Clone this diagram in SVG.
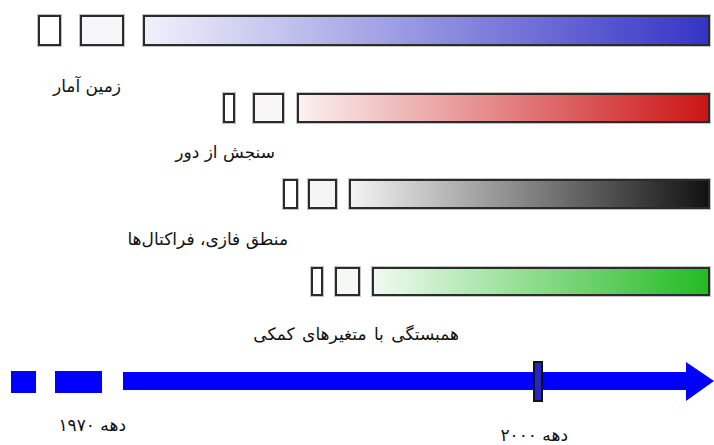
<svg xmlns="http://www.w3.org/2000/svg" width="714" height="445" viewBox="0 0 714 445">
  <style>
    .box { stroke: #2b2b2b; stroke-width: 2; }
    .halo { fill: none; stroke: #c4c4c4; stroke-width: 4; }
    .label { font-family: "DejaVu Sans", "Noto Sans", sans-serif; font-size: 17px; fill: #111; text-anchor: end; }
    .time { fill: #0000ff; }
  </style>
  <defs>
    <linearGradient id="gBlue" x1="0" y1="0" x2="1" y2="0">
      <stop offset="0" stop-color="#f1f1fb"/>
      <stop offset="1" stop-color="#3434c6"/>
    </linearGradient>
    <linearGradient id="gRed" x1="0" y1="0" x2="1" y2="0">
      <stop offset="0" stop-color="#fbf1f1"/>
      <stop offset="1" stop-color="#cc1414"/>
    </linearGradient>
    <linearGradient id="gBlack" x1="0" y1="0" x2="1" y2="0">
      <stop offset="0" stop-color="#f4f4f4"/>
      <stop offset="1" stop-color="#111111"/>
    </linearGradient>
    <linearGradient id="gGreen" x1="0" y1="0" x2="1" y2="0">
      <stop offset="0" stop-color="#f1faf1"/>
      <stop offset="1" stop-color="#22bb22"/>
    </linearGradient>
  </defs>

  <!-- Row 1: geostatistics -->
  <g id="row-geostat">
    <rect class="halo" x="39" y="16" width="21" height="29"/>
    <rect class="halo" x="81" y="16" width="42" height="29"/>
    <rect class="halo" x="144" y="16" width="565" height="29"/>
    <rect class="box" x="39" y="16" width="21" height="29" fill="#ffffff"/>
    <rect class="box" x="81" y="16" width="42" height="29" fill="#f6f6f9"/>
    <rect class="box" x="144" y="16" width="565" height="29" fill="url(#gBlue)"/>
    <text class="label" x="121" y="92" font-size="17">زمین آمار</text>
  </g>

  <!-- Row 2: remote sensing -->
  <g id="row-remote">
    <rect class="halo" x="224" y="94" width="10" height="28"/>
    <rect class="halo" x="254" y="94" width="29" height="28"/>
    <rect class="halo" x="298" y="94" width="411" height="28"/>
    <rect class="box" x="224" y="94" width="10" height="28" fill="#ffffff"/>
    <rect class="box" x="254" y="94" width="29" height="28" fill="#f8f6f6"/>
    <rect class="box" x="298" y="94" width="411" height="28" fill="url(#gRed)"/>
    <text class="label" x="275" y="158" font-size="15.5">سنجش از دور</text>
  </g>

  <!-- Row 3: fuzzy logic, fractals -->
  <g id="row-fuzzy">
    <rect class="halo" x="284" y="180" width="13" height="28"/>
    <rect class="halo" x="309" y="180" width="27" height="28"/>
    <rect class="halo" x="350" y="180" width="359" height="28"/>
    <rect class="box" x="284" y="180" width="13" height="28" fill="#ffffff"/>
    <rect class="box" x="309" y="180" width="27" height="28" fill="#f5f5f5"/>
    <rect class="box" x="350" y="180" width="359" height="28" fill="url(#gBlack)"/>
    <text class="label" x="288" y="245" font-size="16">منطق فازی، فراکتال‌ها</text>
  </g>

  <!-- Row 4: correlation with auxiliary variables -->
  <g id="row-aux">
    <rect class="halo" x="312" y="268" width="10" height="27"/>
    <rect class="halo" x="336" y="268" width="23" height="27"/>
    <rect class="halo" x="373" y="268" width="336" height="27"/>
    <rect class="box" x="312" y="268" width="10" height="27" fill="#ffffff"/>
    <rect class="box" x="336" y="268" width="23" height="27" fill="#f6f8f6"/>
    <rect class="box" x="373" y="268" width="336" height="27" fill="url(#gGreen)"/>
    <text class="label" x="459" y="340" font-size="19.5" word-spacing="2">همبستگی با متغیرهای کمکی</text>
  </g>

  <!-- Timeline arrow -->
  <g id="timeline">
    <rect class="time" x="11" y="371" width="25" height="22"/>
    <rect class="time" x="55" y="371" width="47" height="22"/>
    <rect class="time" x="123" y="372" width="565" height="18"/>
    <polygon class="time" points="686,362 714,381 686,401"/>
    <rect x="534" y="362" width="8" height="39" fill="#2626c8" stroke="#111" stroke-width="2"/>
    <text class="label" x="126" y="431" font-size="19">دهه ۱۹۷۰</text>
    <text class="label" x="568" y="441" font-size="19">دهه ۲۰۰۰</text>
  </g>
</svg>
